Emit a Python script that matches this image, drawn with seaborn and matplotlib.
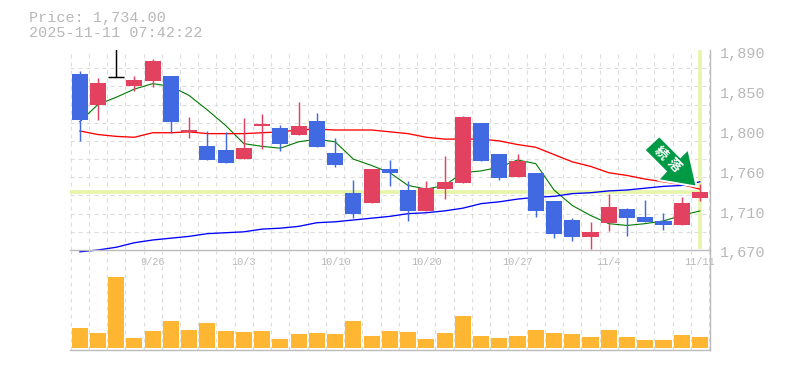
import matplotlib
matplotlib.use("Agg")
import matplotlib.pyplot as plt
from matplotlib.patches import Polygon
from matplotlib.transforms import ScaledTranslation
import numpy as np
import pandas as pd
import seaborn as sns

W, H = 785, 370
PRICE_TOP = 1890
PRICE_BOTTOM = 1670

opens = [1864, 1830, 1860, 1850, 1856, 1861, 1800, 1784, 1780, 1770, 1806,
         1804, 1797, 1812, 1777, 1733, 1722, 1759, 1736, 1713, 1737, 1744, 1810,
         1776, 1750, 1755, 1724, 1703, 1684, 1700, 1715, 1706, 1702, 1698, 1727]
closes = [1813, 1854, 1860, 1857, 1878, 1811, 1802, 1769, 1766, 1782, 1809,
          1787, 1806, 1783, 1764, 1710, 1759, 1755, 1713, 1738, 1745, 1816, 1768,
          1749, 1768, 1713, 1688, 1684, 1690, 1717, 1705, 1701, 1698, 1722, 1734]
highs = [1867, 1859, 1895, 1861, 1880, 1861, 1816, 1801, 1800, 1815, 1820,
         1808, 1833, 1821, 1793, 1747, 1759, 1769, 1746, 1746, 1773, 1817, 1810,
         1776, 1776, 1755, 1724, 1705, 1701, 1732, 1716, 1725, 1711, 1728, 1743]
lows = [1790, 1813, 1860, 1845, 1849, 1799, 1793, 1769, 1766, 1770, 1781,
        1779, 1797, 1783, 1761, 1705, 1722, 1740, 1702, 1713, 1726, 1744, 1768,
        1747, 1750, 1706, 1683, 1680, 1671, 1691, 1685, 1701, 1692, 1698, 1724]
ma_green = [1811, 1830, 1838, 1847, 1853, 1850, 1840, 1824, 1807, 1787, 1784,
            1782, 1789, 1792, 1789, 1770, 1763, 1755, 1741, 1737, 1741, 1755, 1757,
            1761, 1769, 1765, 1736, 1719, 1708, 1699, 1697, 1699, 1702, 1708, 1713]
ma_red = [1801, 1797, 1795, 1794, 1799, 1799, 1800, 1798, 1798, 1798, 1799,
          1800, 1802, 1803, 1802, 1802, 1802, 1800, 1798, 1794, 1792, 1792, 1792,
          1790, 1786, 1783, 1775, 1767, 1762, 1755, 1752, 1748, 1745, 1742, 1737]
ma_blue = [1668, 1670, 1673, 1678, 1681, 1683, 1685, 1688, 1689, 1690, 1693,
           1694, 1696, 1700, 1701, 1703, 1705, 1707, 1710, 1711, 1713, 1716, 1721,
           1723, 1726, 1728, 1729, 1732, 1733, 1735, 1736, 1738, 1740, 1741, 1745]
volumes = [20, 15, 71, 10, 17, 27, 18, 25, 17, 16, 17, 9, 14, 15, 14, 27, 12, 17,
           16, 9, 15, 32, 12, 10, 12, 18, 15, 14, 11, 18, 11, 8, 8, 13, 11]
date_positions = [4, 9, 14, 19, 24, 29, 34]
date_labels = ["9/26", "10/3", "10/10", "10/20", "10/27", "11/4", "11/11"]
price_ticks = [1670, 1714, 1758, 1802, 1846, 1890]
price_labels = ["1,670", "1,710", "1,760", "1,800", "1,850", "1,890"]
header_lines = ["Price: 1,734.00", "2025-11-11 07:42:22"]
badge_chars = ["続", "落"]

sns.set_theme(style="white")
plt.rcParams["font.family"] = ["Liberation Mono", "Noto Sans CJK JP"]

TEXT = "#b8b8b8"
GRID = "#dcdcdc"
AXIS = "#bbbbbb"
UP = "#e2425f"
DOWN = "#4169e1"
HILITE = "#e6f5a8"
VOL = "#ffb733"
ARROW = "#009944"

fig = plt.figure(figsize=(W / 100, H / 100), dpi=100, facecolor="white")


def box(l, t, r, b):
    return [l / W, 1 - b / H, (r - l) / W, (b - t) / H]


ax = fig.add_axes(box(70, 50, 710, 250))
vx = fig.add_axes(box(70, 250, 710, 350))

xlim = (-0.53, 34.55)
n = len(opens)
idx = np.arange(n)
edges = np.arange(-0.5, n + 0.5)


def style(a):
    a.set_xlim(*xlim)
    a.set_xticks(edges, minor=True)
    a.grid(True, which="minor", axis="x", color=GRID, lw=0.8, ls=(0, (3.6, 3.6)))
    a.set_axisbelow(True)
    a.tick_params(which="both", length=0)
    for side in ("top", "left"):
        a.spines[side].set_visible(False)
    for side in ("right", "bottom"):
        a.spines[side].set_color(AXIS)
        a.spines[side].set_linewidth(1.0)
    a.patch.set_alpha(0)


# price pane
style(ax)
ax.set_ylim(PRICE_BOTTOM, PRICE_TOP)
ax.set_yticks(np.arange(PRICE_BOTTOM, PRICE_TOP + 1, 20), minor=True)
ax.grid(True, which="minor", axis="y", color=GRID, lw=0.8, ls=(0, (3.6, 3.6)))
ax.yaxis.tick_right()
ax.set_yticks(price_ticks, price_labels, fontsize=10.9, color=TEXT)
ax.tick_params(axis="y", which="major", pad=7.2)
shift = ScaledTranslation(0, -2 / 100, fig.dpi_scale_trans)
for lab in ax.get_yticklabels():
    lab.set_transform(lab.get_transform() + shift)
ax.set_xticks(date_positions, date_labels, fontsize=7.4, color=TEXT)
ax.tick_params(axis="x", which="major", pad=5)

ax.hlines(closes[-1], xlim[0], idx[-1], color=HILITE, lw=2.6, zorder=1.5)
ax.vlines(idx[-1], PRICE_BOTTOM + 1, PRICE_TOP, color=HILITE, lw=2.6, zorder=1.5)

frame = pd.DataFrame({"i": idx, "green": ma_green, "red": ma_red, "blue": ma_blue})
for col, c, lw in (("green", "#007a00", 0.8), ("red", "#ff0000", 0.95), ("blue", "#0000ff", 0.95)):
    sns.lineplot(data=frame, x="i", y=col, ax=ax, color=c, lw=lw, zorder=2.2, legend=False)
ax.set_xlim(*xlim)
ax.set_ylim(PRICE_BOTTOM, PRICE_TOP)
ax.set_xlabel("")
ax.set_ylabel("")
ax.lines[-1].set_clip_on(False)

for i in idx:
    o, c, h, l = opens[i], closes[i], highs[i], lows[i]
    color = "#000000" if o == c else (UP if c > o else DOWN)
    ax.vlines(i, l, h, color=color, lw=1.05, zorder=3)
    if o == c:
        ax.hlines(o, i - 0.44, i + 0.44, color=color, lw=1.05, zorder=3)
    else:
        ax.bar(i, abs(c - o), bottom=min(o, c), width=0.88, color=color, lw=0, zorder=3.1)

# volume pane
style(vx)
vol_frame = pd.DataFrame({"i": idx, "v": volumes})
sns.barplot(data=vol_frame, x="i", y="v", ax=vx, native_scale=True, color=VOL,
            saturation=1, width=0.88, zorder=3, lw=0)
vx.set_xlim(*xlim)
vx.set_ylim(-2, 98)
vx.set_xticks([])
vx.set_yticks([])
vx.set_xlabel("")
vx.set_ylabel("")


def P(x, y):
    return (x / W, 1 - y / H)


arrow = [(659.3, 136), (644.3, 150), (665.8, 171.5), (657.7, 180), (696.7, 186.7),
         (688.3, 149), (680.3, 157)]
fig.add_artist(Polygon([P(*p) for p in arrow], closed=True, transform=fig.transFigure,
                       facecolor=ARROW, edgecolor="white", lw=1.5, zorder=6))
for ch, (x, y) in zip(badge_chars, [(661, 153), (674, 165)]):
    fig.text(x / W, 1 - y / H, ch, rotation=-45, ha="center", va="center", color="white",
             fontsize=9.5, fontweight="bold", family=["Noto Sans CJK JP"], zorder=7)

for k, line in enumerate(header_lines):
    fig.text(29 / W, 1 - (18 + 15 * k) / H, line, color=TEXT, fontsize=10.9,
             ha="left", va="center")

fig.savefig("out.png", dpi=100, facecolor="white")
